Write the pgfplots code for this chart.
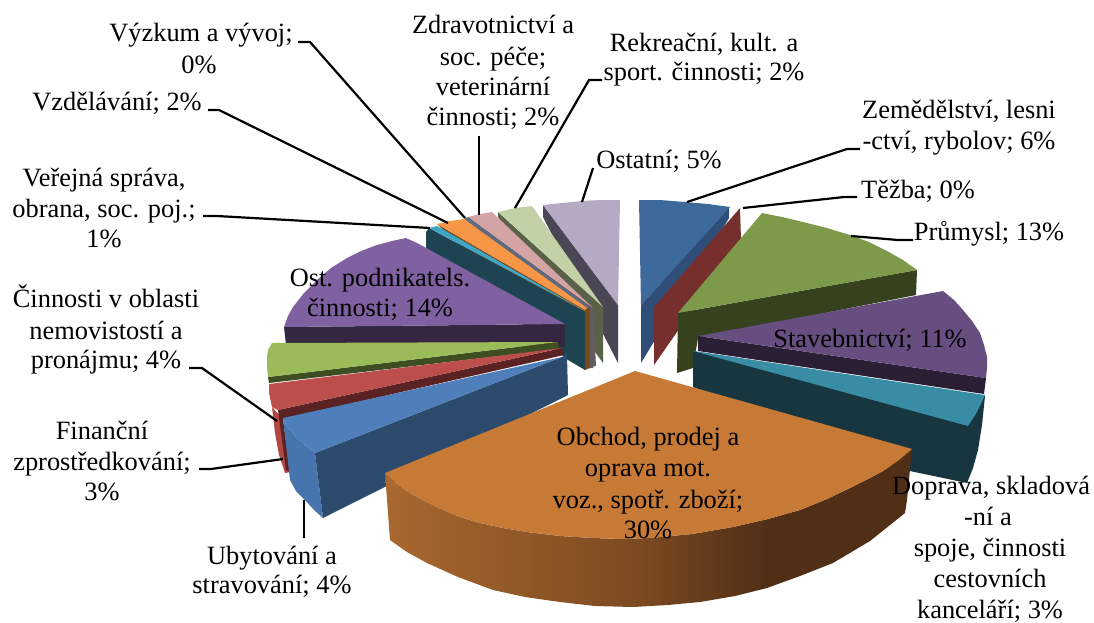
\documentclass[border=0pt]{standalone}
\usepackage{pgfplots}
\usepackage{fontspec}
\setmainfont{Liberation Serif}
\pgfplotsset{compat=1.18}
\definecolor{o1}{HTML}{A9682F}
\definecolor{o2}{HTML}{7C4A21}
\definecolor{o3}{HTML}{512F16}
\pgfdeclarehorizontalshading{orangeside}{100bp}{color(0bp)=(o1); color(25bp)=(o1); color(49bp)=(o2); color(61bp)=(o3); color(100bp)=(o3)}
\newcommand{\lab}[3]{\node[anchor=base,inner sep=0pt,font=\fontsize{26.4}{30}\selectfont] at (axis cs:#1,#2+8) {#3};}
\newcommand{\poly}[2]{\addplot[/utils/exec={\definecolor{tmpc}{HTML}{#1}},fill=tmpc,draw=none,forget plot] coordinates {#2} -- cycle;}
\newcommand{\lead}[1]{\addplot[black,line width=2.2pt,forget plot] coordinates {#1};}
\begin{document}
\begin{tikzpicture}
\begin{axis}[at={(0,0)},scale only axis,width=1094pt,height=619pt,xmin=0,xmax=1094,ymin=0,ymax=619,y dir=reverse,
  axis lines=none,xtick=\empty,ytick=\empty,clip=false,no marks]
\path (axis cs:0,0) rectangle (axis cs:1094,619);
% Zemedelstvi
\poly{2F4F79}{(729,207)(729,218)(641,363)(641,305)}
\poly{3D6A9B}{(639,200)(660,200)(685,202)(708,204)(730,207)(641,305)}
% Tezba
\poly{772F2E}{(740,208)(741,240)(654,365)(654,307)}
% Prumysl
\poly{36411E}{(678,313)(917,270)(916,295)(698,338)(693,368)(677,373)}
\poly{7D994A}{(762,213)(782,217)(803,222)(827,228)(850,235)(869,242)(887,251)(903,260)(917,270)(678,313)}
% Stavebnictvi
\poly{2B1F36}{(698,336)(986,378)(984,394)(698,351)}
\poly{664F80}{(698,336)(943,291)(954,300)(963,310)(972,321)(980,333)(984,345)(987,357)(987,368)(986,378)}
% Doprava
\poly{17363F}{(693,351)(985,396)(982,425)(978,450)(973,468)(967,483)(905,470)(693,387)}
\poly{388DA5}{(693,351)(985,395)(977,412)(968,426)}
% Ostatni
\poly{4B4654}{(543,205)(618,305)(618,363)(543,217)}
\poly{B5A9C4}{(543,205)(562,203)(582,201)(600,200)(620,200)(618,305)}
% Rekreacni
\poly{5A6149}{(498,212)(603,307)(603,363)(498,217)}
\poly{C3D1A7}{(498,212)(515,208)(532,206)(603,307)}
% Zdravotnictvi
\poly{6B5A5A}{(468,217)(593,308)(596,366)(585,368)}
\poly{D3A4A3}{(468,217)(480,214)(492,212)(593,308)}
% Vyzkum
\poly{5E5E62}{(590,307)(593,308)(593,368)(590,368)}
\poly{5E6A80}{(464,219)(468,217)(590,307)(587,310)}
% Vzdelavani
\poly{7A4A1F}{(437,224)(585,310)(590,307)(590,368)(585,370)}
\poly{F79646}{(437,224)(450,221)(464,219)(587,308)(585,310)}
% Verejna sprava
\poly{1F4451}{(426,232)(429,228)(585,312)(585,370)(568,360)(426,248)}
\poly{3FA7C4}{(429,228)(437,226)(585,311)}
% Ost. podnikatelske
\poly{352641}{(284,327)(565,324)(565,347)(286,345)}
\poly{7F60A0}{(284,327)(288,316)(293,307)(304,293)(317,280)(331,268)(347,258)(361,251)(377,245)(392,241)(406,238)(417,243)(565,324)}
% Cinnosti v oblasti nemovitosti
\poly{3F4D22}{(268,377)(558,342)(559,349)(269,383)}
\poly{9BBB59}{(272,343)(558,342)(268,377)(267,367)(267,357)(268,350)}
% Financni
\poly{B04744}{(272,407)(275,433)(279,455)(285,473)(290,472)(282,418)}
\poly{5A2222}{(278,410)(562,348)(564,355)(283,419)(290,472)(286,470)}
\poly{BC4F4C}{(269,384)(562,348)(278,410)(272,407)(269,393)}
% Ubytovani
\poly{4874AD}{(283,418)(288,428)(297,438)(306,446)(315,453)(323,518)(314,510)(305,500)(296,491)(290,480)}
\poly{2C4A6B}{(315,453)(567,355)(568,395)(323,518)}
\poly{4F7FBA}{(283,418)(562,357)(567,355)(315,453)(306,446)(297,438)(288,428)}
% Obchod
\addplot[shade,shading=orangeside,draw=none,forget plot] coordinates {(385,473)(396,483)(410,493)(425,501)(441,509)(460,517)(480,523)(503,528)(527,532)(560,536)(593,538)(622,539)(650,538)(692,534)(733,527)(768,519)(800,510)(827,499)(850,488)(868,479)(883,471)(899,460)(912,449)(907,500)(905,513)(870,541)(833,563)(800,576)(767,588)(735,596)(700,602)(668,605)(633,607)(595,606)(560,602)(525,597)(493,590)(458,577)(427,563)(407,552)(390,540)} -- cycle;
\poly{C77A35}{(635,371)(912,449)(899,460)(883,471)(868,479)(850,488)(827,499)(800,510)(768,519)(733,527)(692,534)(650,538)(622,539)(593,538)(560,536)(527,532)(503,528)(480,523)(460,517)(441,509)(425,501)(410,493)(396,483)(385,473)}
% leader lines
\lead{(687,202)(847,149)(860,149)}
\lead{(743,208)(844,197)(857,197)}
\lead{(851,236)(898,240)(913,240)}
\lead{(582,202)(593,168)}
\lead{(515,208)(589,80)(602,80)}
\lead{(479,136)(479,215)}
\lead{(298,42)(310,42)(465,218)}
\lead{(208,110)(219,110)(448,223)}
\lead{(203,216)(217,216)(430,228)}
\lead{(189,368)(202,368)(277,421)}
\lead{(199,469)(211,469)(283,459)}
\lead{(304,500)(304,538)}
% labels
\lab{201}{33}{Výzkum a vývoj;}
\lab{199}{65}{0\%}
\lab{117}{102}{Vzdělávání; 2\%}
\lab{104}{178}{Veřejná správa,}
\lab{104}{209}{obrana, soc. poj.;}
\lab{104}{239}{1\%}
\lab{493}{25}{Zdravotnictví a}
\lab{493}{57}{soc. péče;}
\lab{493}{87}{veterinární}
\lab{493}{117}{činnosti; 2\%}
\lab{704}{43}{Rekreační, kult. a}
\lab{704}{72}{sport. činnosti; 2\%}
\lab{659}{160}{Ostatní; 5\%}
\lab{959}{110}{Zemědělství, lesni}
\lab{959}{141}{-ctví, rybolov; 6\%}
\lab{918}{190}{Těžba; 0\%}
\lab{989}{232}{Průmysl; 13\%}
\lab{380}{278}{Ost. podnikatels.}
\lab{380}{308}{činnosti; 14\%}
\lab{870}{339}{Stavebnictví; 11\%}
\lab{648}{437}{Obchod, prodej a}
\lab{648}{468}{oprava mot.}
\lab{648}{500}{voz., spotř. zboží;}
\lab{648}{530}{30\%}
\lab{991}{486}{Doprava, skladová}
\lab{988}{517}{-ní a}
\lab{990}{548}{spoje, činnosti}
\lab{990}{579}{cestovních}
\lab{990}{610}{kanceláří; 3\%}
\lab{106}{299}{Činnosti v oblasti}
\lab{106}{331}{nemovistostí a}
\lab{106}{360}{pronájmu; 4\%}
\lab{102}{431}{Finanční}
\lab{102}{462}{zprostředkování;}
\lab{102}{492}{3\%}
\lab{272}{556}{Ubytování a}
\lab{272}{585}{stravování; 4\%}
\end{axis}
\end{tikzpicture}
\end{document}
